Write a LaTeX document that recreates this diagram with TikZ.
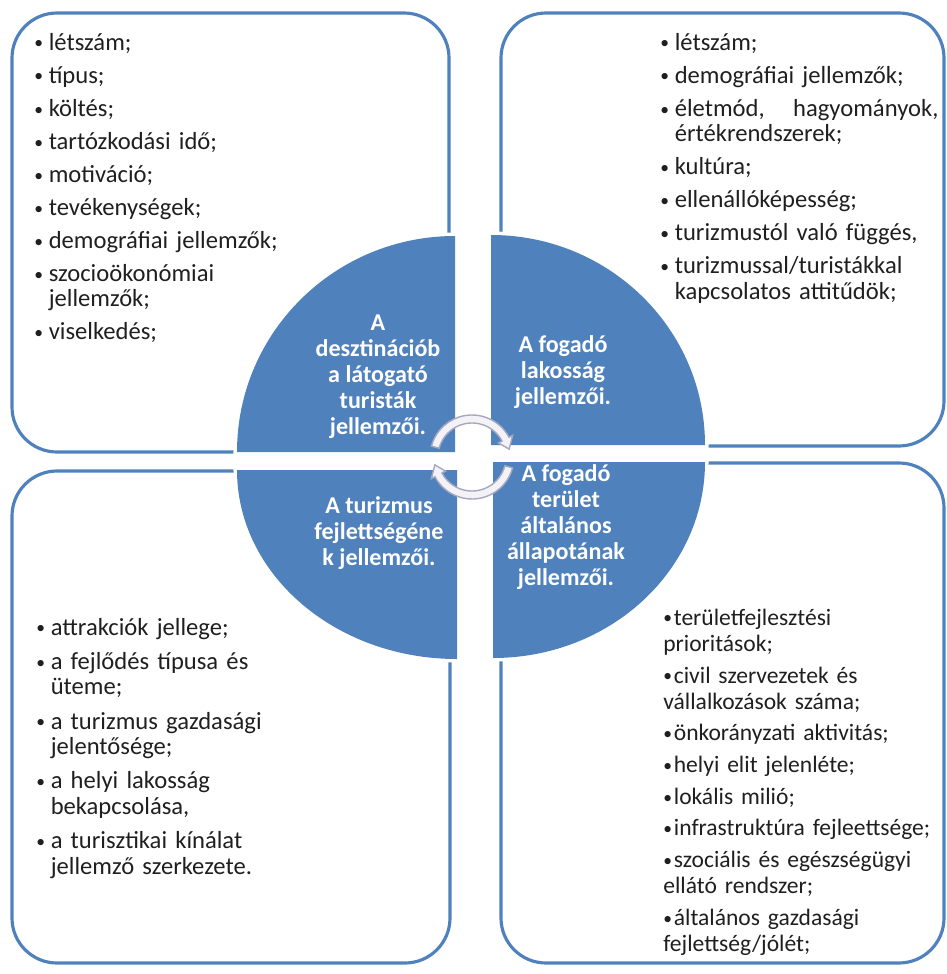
\documentclass[tikz,border=0pt]{standalone}
\usepackage{fontspec}
\setmainfont{Carlito}
\usetikzlibrary{calc}
\definecolor{qblue}{HTML}{4F81BD}
\definecolor{arrowline}{HTML}{A7A7BF}
\definecolor{arrowfill}{HTML}{F3F3F7}
\definecolor{itemgray}{HTML}{1F1F1F}
\newcommand{\dotmark}{\raisebox{0.6pt}{\fontsize{10}{10}\selectfont\textbullet}}
\newcommand{\blt}{\makebox[8.2pt][l]{\dotmark}}
\newcommand{\sblt}{\dotmark\hspace{1pt}}
\newcommand{\cont}{\hspace*{8.2pt}}
\tikzset{
  quarterbox/.style={draw=qblue, line width=1.8pt, rounded corners=0.9cm},
  pieedge/.style={draw=white, line width=4pt},
  piefill/.style={fill=qblue},
  cyclearrow/.style={fill=arrowfill, draw=arrowline, line width=0.8pt},
  itemlist/.style={anchor=base west, align=left, text width=175pt, text=itemgray,
    font=\fontsize{14}{14.5}\selectfont},
  pietext/.style={align=center, text=white, font=\bfseries\fontsize{13.7}{14.8}\selectfont}
}
\begin{document}
\begin{tikzpicture}[scale=0.2]
\tikzstyle{every node}+=[inner sep=0pt]
\useasboundingbox (0,0) rectangle (94.7,-97.4);
\draw [quarterbox] (1.2,-1.3) rectangle (44.9,-45.2);
\draw [quarterbox] (50.1,-1.3) rectangle (94.4,-44.6);
\draw [quarterbox] (1.2,-47.1) rectangle (45,-96.3);
\draw [quarterbox] (50.1,-46.3) rectangle (94.4,-96.3);
\draw [pieedge] (45.5,-45.2) -- (23.7,-45.2) arc [start angle=180, end angle=90, x radius=21.8, y radius=21.6] -- cycle;
\fill [piefill] (45.5,-45.2) -- (23.7,-45.2) arc [start angle=180, end angle=90, x radius=21.8, y radius=21.6] -- cycle;
\draw [pieedge] (49.1,-44.5) -- (49.1,-23.5) arc [start angle=90, end angle=0, x radius=21.4, y radius=21] -- cycle;
\fill [piefill] (49.1,-44.5) -- (49.1,-23.5) arc [start angle=90, end angle=0, x radius=21.4, y radius=21] -- cycle;
\draw [pieedge] (45.7,-47) -- (23.7,-47) arc [start angle=180, end angle=270, x radius=22, y radius=18.9] -- cycle;
\fill [piefill] (45.7,-47) -- (23.7,-47) arc [start angle=180, end angle=270, x radius=22, y radius=18.9] -- cycle;
\draw [pieedge] (49.3,-46.2) -- (70.5,-46.2) arc [start angle=0, end angle=-90, x radius=21.2, y radius=19.6] -- cycle;
\fill [piefill] (49.3,-46.2) -- (70.5,-46.2) arc [start angle=0, end angle=-90, x radius=21.2, y radius=19.6] -- cycle;
\coordinate (hub) at (47.2,-45.7);
\filldraw [cyclearrow] ($(hub)+(165:4.2)$) arc [start angle=165, end angle=28, radius=4.2]
  -- ($(hub)+(28:4.6)$) -- ($(hub)+(12:3.8)$) -- ($(hub)+(28:3.0)$) -- ($(hub)+(28:3.4)$)
  arc [start angle=28, end angle=165, radius=3.4] -- cycle;
\filldraw [cyclearrow] ($(hub)+(-15:4.2)$) arc [start angle=-15, end angle=-152, radius=4.2]
  -- ($(hub)+(-152:4.6)$) -- ($(hub)+(-168:3.8)$) -- ($(hub)+(-152:3.0)$) -- ($(hub)+(-152:3.4)$)
  arc [start angle=-152, end angle=-15, radius=3.4] -- cycle;
\node [pietext] (tourists) at (37.8,-37.7) {A\\desztinációb\\a látogató\\turisták\\jellemzői.};
\node [pietext] (residents) at (56.3,-37.2) {A fogadó\\lakosság\\jellemzői.};
\node [pietext] (tourism) at (37.9,-53.3) {A turizmus\\fejlettségéne\\k jellemzői.};
\node [pietext] (area) at (56.6,-52.7) {A fogadó\\terület\\általános\\állapotának\\jellemzői.};
\node [itemlist] (touristlist) at (3.4,-5) {\blt létszám;\\[4.3pt]
\blt típus;\\[4.3pt]
\blt költés;\\[4.3pt]
\blt tartózkodási idő;\\[4.3pt]
\blt motiváció;\\[4.3pt]
\blt tevékenységek;\\[4.3pt]
\blt demográfiai jellemzők;\\[4.3pt]
\blt szocioökonómiai\\
\cont jellemzők;\\[4.3pt]
\blt viselkedés;};
\node [itemlist] (residentlist) at (66,-5) {\blt létszám;\\[4.3pt]
\blt demográfiai jellemzők;\\[4.3pt]
\blt \makebox[150pt][l]{életmód,\hfill hagyományok,}\\
\cont értékrendszerek;\\[4.3pt]
\blt kultúra;\\[4.3pt]
\blt ellenállóképesség;\\[4.3pt]
\blt turizmustól való függés,\\[4.3pt]
\blt turizmussal/turistákkal\\
\cont kapcsolatos attitűdök;};
\node [itemlist] (tourismlist) at (3.6,-63.5) {\blt attrakciók jellege;\\[5pt]
\blt a fejlődés típusa és\\
\cont üteme;\\[5pt]
\blt a turizmus gazdasági\\
\cont jelentősége;\\[5pt]
\blt a helyi lakosság\\
\cont bekapcsolása,\\[5pt]
\blt a turisztikai kínálat\\
\cont jellemző szerkezete.};
\node [itemlist, font=\fontsize{13.4}{15}\selectfont] (arealist) at (66.3,-62.5) {\sblt területfejlesztési\\
prioritások;\\[3pt]
\sblt civil szervezetek és\\
vállalkozások száma;\\[3pt]
\sblt önkorányzati aktivitás;\\[3pt]
\sblt helyi elit jelenléte;\\[3pt]
\sblt lokális milió;\\[3pt]
\sblt infrastruktúra fejleettsége;\\[3pt]
\sblt szociális és egészségügyi\\
ellátó rendszer;\\[3pt]
\sblt általános gazdasági\\
fejlettség/jólét;};
\end{tikzpicture}
\end{document}
